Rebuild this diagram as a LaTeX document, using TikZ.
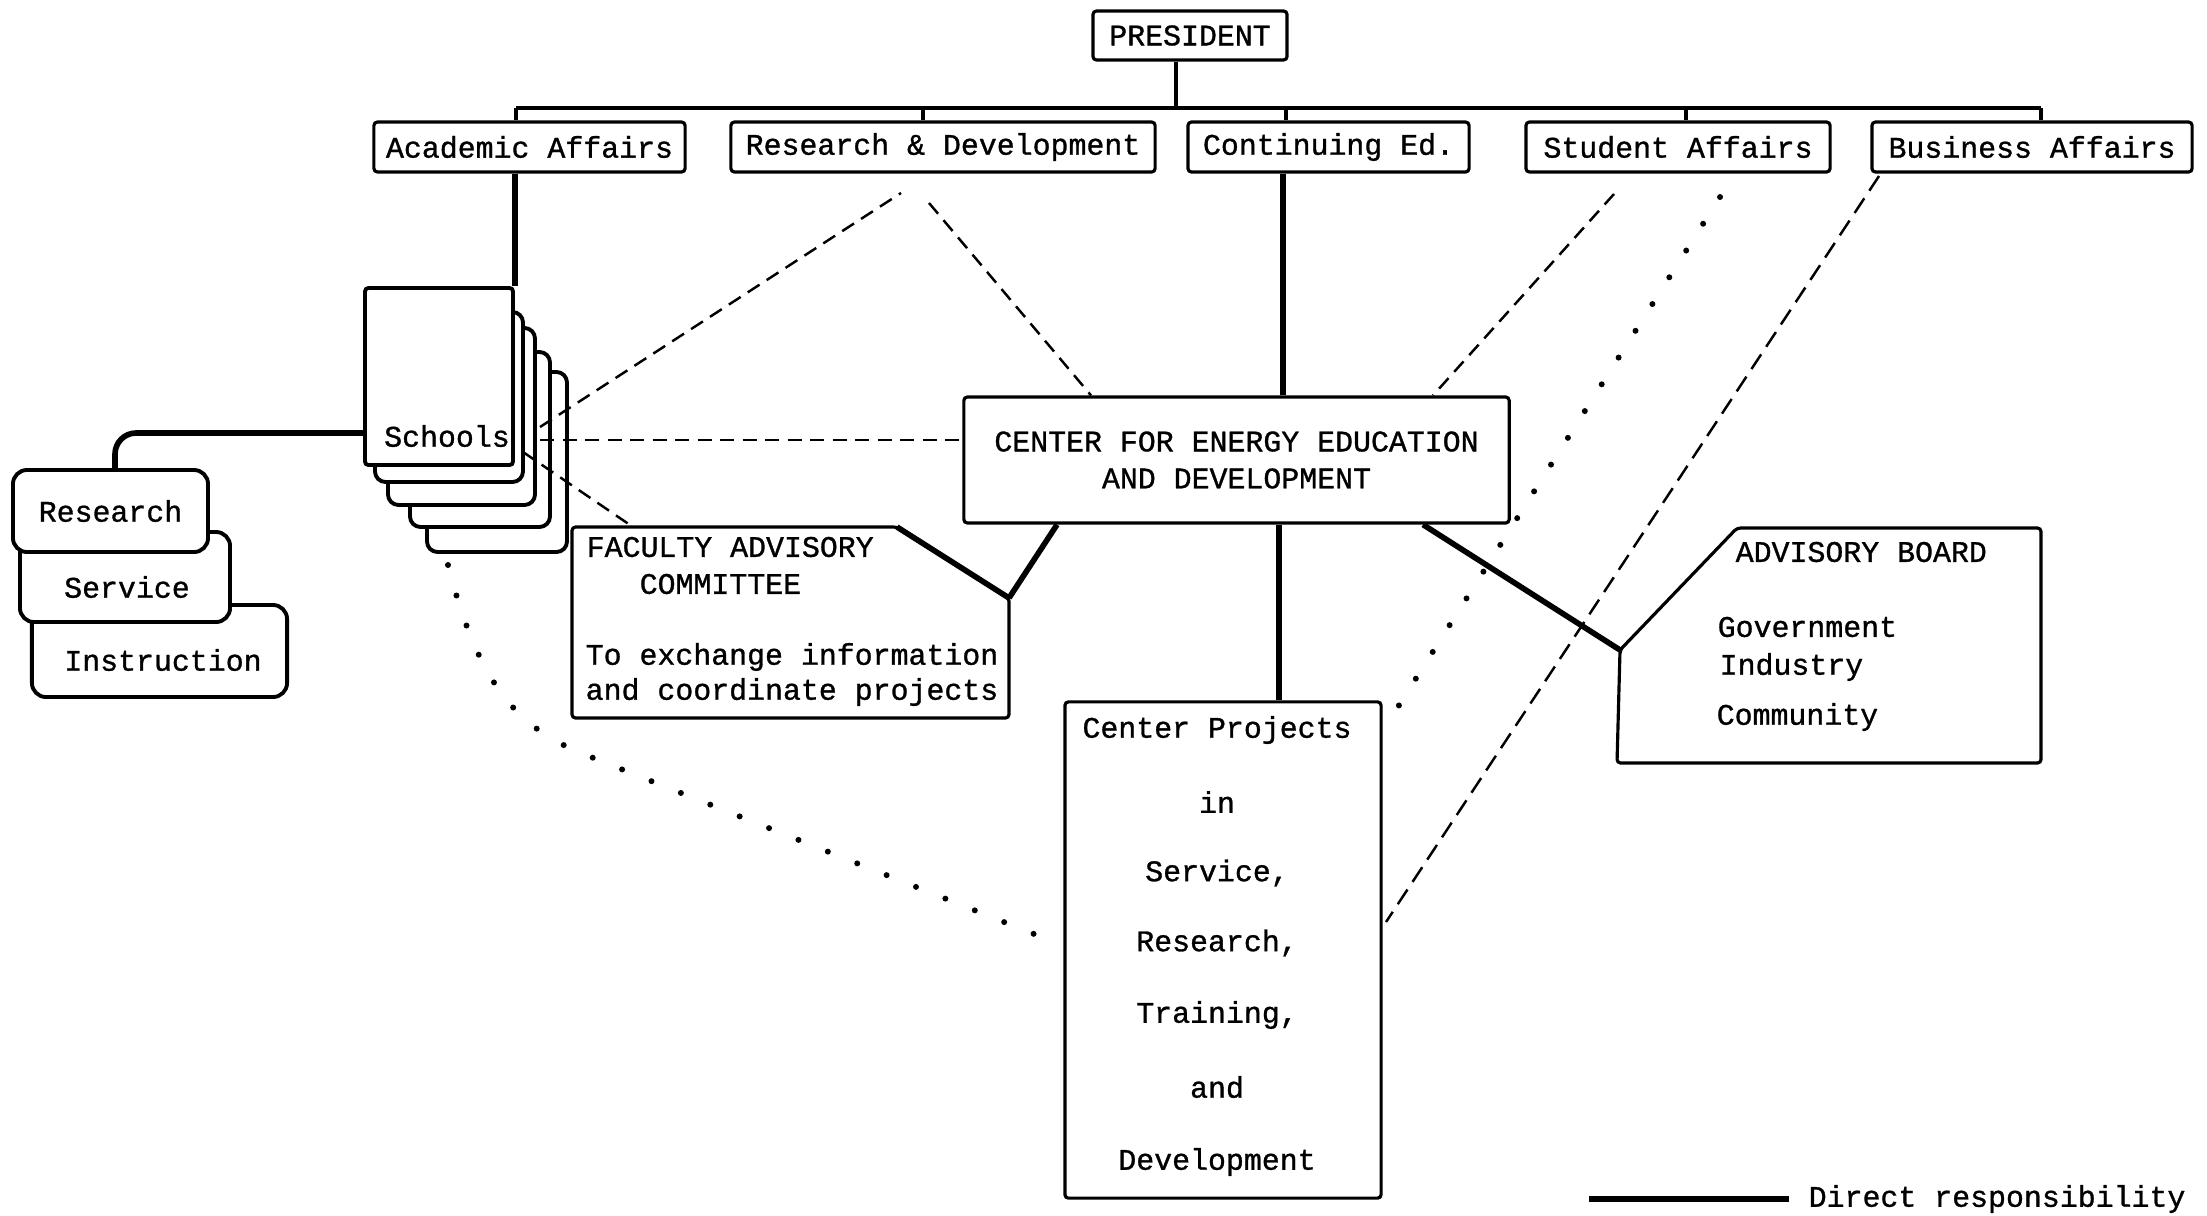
\documentclass[tikz,border=0pt]{standalone}
\usepackage{fontspec}
\newfontfamily\typefont{Liberation Mono}[BoldFont={Liberation Mono}, BoldFeatures={FakeBold=1}]
\usepackage{tikz}
\usetikzlibrary{calc}

\tikzset{
  orgbox/.style={draw, line width=0.9pt, fill=white, inner sep=0pt, rounded corners=1pt},
  pagebox/.style={draw, line width=1.1pt, fill=white, rounded corners=3pt},
  tabbox/.style={draw, line width=1.1pt, fill=white, rounded corners=4pt, inner sep=0pt},
  tree/.style={line width=1.2pt},
  direct/.style={line width=1.6pt},
  liaison/.style={line width=0.7pt, dash pattern=on 4pt off 2.4pt},
  contact/.style={line width=1.7pt, line cap=round, dash pattern=on 0pt off 9pt},
  lbl/.style={inner sep=0pt},
}

\begin{document}
\begin{tikzpicture}[x=0.01cm, y=-0.01cm, font=\typefont\bfseries\fontsize{8.5}{10.5}\selectfont]
  \fill[white] (0,0) rectangle (2207,1215);
  \useasboundingbox (0,0) rectangle (2207,1215);

  \node[orgbox, minimum width=1.94cm, minimum height=0.49cm] (pres) at (1190,35.5) {PRESIDENT};
  \node[orgbox, minimum width=3.11cm, minimum height=0.50cm] (acad) at (529.5,147) {Academic Affairs};
  \node[orgbox, minimum width=4.24cm, minimum height=0.50cm] (rnd) at (943,147) {Research \& Development};
  \node[orgbox, minimum width=2.81cm, minimum height=0.50cm] (cont) at (1328.5,147) {Continuing Ed.};
  \node[orgbox, minimum width=3.04cm, minimum height=0.50cm] (stud) at (1678,147) {Student Affairs};
  \node[orgbox, minimum width=3.20cm, minimum height=0.50cm] (bus) at (2032,147) {Business Affairs};

  \coordinate (bar) at (1176,108);
  \draw[tree] (pres.south -| bar) -- (bar);
  \draw[tree] (516,108) -- (2041,108);
  \foreach \x/\b in {516/acad, 923/rnd, 1286/cont, 1686/stud, 2041/bus}
    \draw[tree] (\x,108) -- (\b.north -| \x,0);

  \node[orgbox, minimum width=5.45cm, minimum height=1.26cm, align=center] (center) at (1236.5,460)
    {CENTER FOR ENERGY EDUCATION\\AND DEVELOPMENT};
  \node[orgbox, minimum width=3.16cm, minimum height=4.96cm] (proj) at (1223,950) {};
  \foreach \t/\y in {{Center Projects}/730, in/802, {Service,}/873, {Research,}/943, {Training,}/1015, and/1087, Development/1162}
    \node[lbl] at (1217,\y) {\t};

  \foreach \a/\b/\c/\d in {427/372/567/552, 410/352/550/527, 388/328/535/505, 375/312/523/482}
    \draw[pagebox] (\a,\b) rectangle (\c,\d);
  \node[pagebox, rounded corners=1pt, minimum width=1.48cm, minimum height=1.77cm] (schools) at (439,376.5) {};
  \node[lbl] (schtxt) at (447,436) {Schools};

  \node[tabbox, minimum width=2.55cm, minimum height=0.92cm] (instr) at (159.5,651) {};
  \node[tabbox, minimum width=2.10cm, minimum height=0.90cm] (serv) at (125,577) {};
  \node[tabbox, minimum width=1.95cm, minimum height=0.82cm] (res) at (110.5,511) {Research};
  \node[lbl] at (127,587) {Service};
  \node[lbl] at (163,660) {Instruction};

  \coordinate (fac) at (1009,598);
  \coordinate (factop) at (633,527);
  \draw[orgbox] (572,527) -- (897,527) -- (fac) -- (1009,718) -- (572,718) -- cycle;
  \draw[direct] (897,527) -- (fac);
  \node[lbl, anchor=west] at (586,547) {FACULTY ADVISORY};
  \node[lbl, anchor=west] at (639,584) {COMMITTEE};
  \node[lbl, anchor=west] at (585,657) {To exchange information};
  \node[lbl, anchor=west] at (585,692) {and coordinate projects};

  \coordinate (adv) at (1620,650);
  \draw[orgbox] (1737,528) -- (2041,528) -- (2041,763) -- (1617,763) -- (adv) -- cycle;
  \node[lbl, anchor=west] at (1735,552) {ADVISORY BOARD};
  \node[lbl, anchor=west] at (1717,627) {Government};
  \node[lbl, anchor=west] at (1719,667) {Industry};
  \node[lbl, anchor=west] at (1716,717) {Community};

  \draw[direct] (schools.north east |- acad.south) -- (schools.north east);
  \draw[direct] (cont.south -| 1283,0) -- (center.north -| 1283,0);
  \draw[direct] (center.south -| 1279,0) -- (proj.north -| 1279,0);
  \draw[direct] (center.south -| 1057,0) -- (fac);
  \draw[direct] (center.south -| 1423,0) -- (adv);
  \draw[direct, rounded corners=6pt] (schools.west |- 0,433) -| (res.north -| 115,0);

  \coordinate (s1) at (540,427);
  \coordinate (s2) at (540,440);
  \coordinate (s3) at (523,452);
  \coordinate (s4) at (448,565);
  \coordinate (r1) at (901,193);
  \coordinate (r2) at (929,203);
  \coordinate (u1) at (1614,194);
  \coordinate (u2) at (1720,197);
  \coordinate (b1) at (1879,176);
  \draw[liaison] (s1) -- (r1);
  \draw[liaison] (r2) -- (center.north -| 1091,0);
  \draw[liaison] (u1) -- (center.north -| 1433,0);
  \draw[liaison] (s2) -- (center.west |- s2);
  \draw[liaison] (s3) -- (factop);
  \draw[liaison, dash pattern=on 5pt off 2.6pt] (b1) -- (1386,922);
  \draw[contact] (u2) -- (1396,710);
  \draw[contact] (s4) .. controls (480,690) and (520,730) .. (591,757) -- (1049,940);

  \node[lbl, anchor=west] (leg) at (1808,1199) {Direct responsibility};
  \draw[direct] ([xshift=-0.19cm]leg.west) -- ++(-200,0);
\end{tikzpicture}
\end{document}
